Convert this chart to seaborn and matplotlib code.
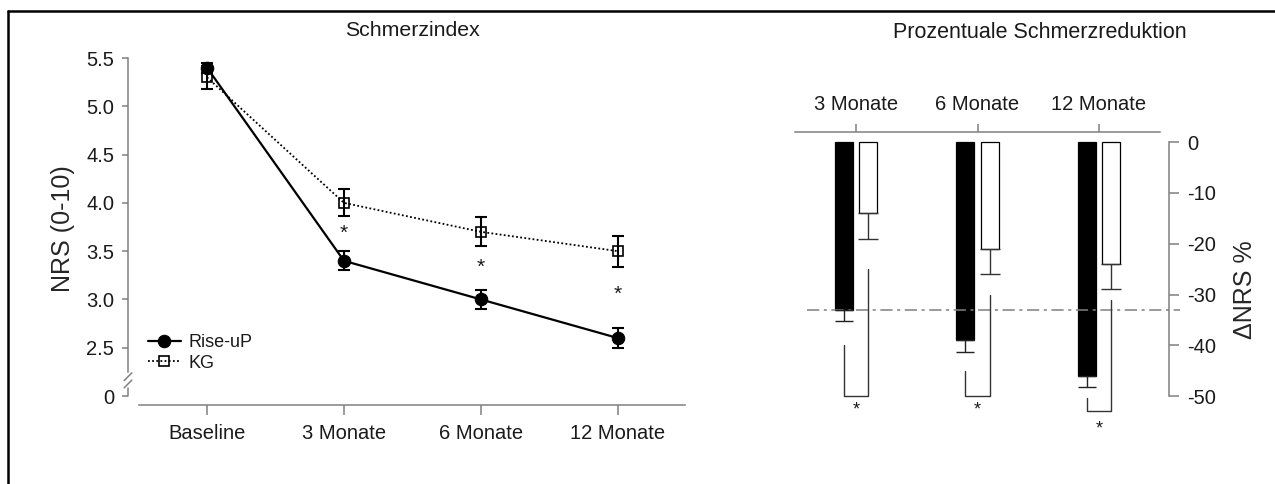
import numpy as np
import pandas as pd
import matplotlib
matplotlib.use("Agg")
import matplotlib.pyplot as plt
from matplotlib.lines import Line2D
import seaborn as sns

# ============================================================
# Data
# ============================================================
time_labels = ["Baseline", "3 Monate", "6 Monate", "12 Monate"]
rise_mean = [5.40, 3.40, 3.00, 2.60]
rise_err = [0.05, 0.10, 0.10, 0.10]
kg_mean = [5.30, 4.00, 3.70, 3.50]
kg_err = [0.12, 0.14, 0.15, 0.16]
star_y_left = [None, 3.68, 3.33, 3.05]

reduction_labels = ["3 Monate", "6 Monate", "12 Monate"]
rise_change = [-33, -39, -46]
rise_change_err = [2.3, 2.3, 2.2]
kg_change = [-14, -21, -24]
kg_change_err = [5.0, 5.0, 5.0]
threshold = -33

# significance brackets: top of left leg, top of right leg, bottom, asterisk
bracket_left_top = [-40, -45, -50.3]
bracket_right_top = [-25, -30, -31]
bracket_bottom = [-50, -50, -53]
star_y_right = [-52.8, -52.8, -56.5]

GRAY = "#808080"
TXT = "#1a1a1a"

sns.set_theme(style="ticks")
plt.rcParams["font.family"] = ["Liberation Sans", "DejaVu Sans"]
plt.rcParams["text.color"] = TXT
plt.rcParams["xtick.color"] = GRAY
plt.rcParams["ytick.color"] = GRAY
plt.rcParams["xtick.labelcolor"] = TXT
plt.rcParams["ytick.labelcolor"] = TXT

fig = plt.figure(figsize=(12.75, 4.84), dpi=100)

# ============================================================
# Left: Schmerzindex
# ============================================================
ax = fig.add_axes([128 / 1275, 79 / 484, 557 / 1275, 352 / 484])
pos = np.arange(len(time_labels))
df_line = pd.DataFrame({"pos": pos, "rise": rise_mean, "kg": kg_mean})

ax.errorbar(pos, kg_mean, yerr=kg_err, fmt="none", ecolor="black",
            elinewidth=1.5, capsize=4.5, capthick=1.5, zorder=2)
ax.errorbar(pos, rise_mean, yerr=rise_err, fmt="none", ecolor="black",
            elinewidth=1.5, capsize=4.5, capthick=1.5, zorder=2)
sns.lineplot(data=df_line, x="pos", y="kg", ax=ax, color="black",
             linestyle=(0, (1, 1.3)), linewidth=1.3, marker="s", markersize=7,
             markerfacecolor="none", markeredgecolor="black", markeredgewidth=1.2,
             label="KG", zorder=3)
sns.lineplot(data=df_line, x="pos", y="rise", ax=ax, color="black",
             linestyle="-", linewidth=1.6, marker="o", markersize=9,
             markerfacecolor="black", markeredgecolor="black",
             label="Rise-uP", zorder=4)

for x, y in zip(pos, star_y_left):
    if y is not None:
        ax.text(x, y, "*", ha="center", va="center", fontsize=15)

ax.set_xlim(-0.577, 3.49)
ax.set_ylim(1.907, 5.552)
ax.set_xticks(pos)
ax.set_xticklabels(time_labels, fontsize=14.5)
ax.set_yticks([2.0, 2.5, 3.0, 3.5, 4.0, 4.5, 5.0, 5.5])
ax.set_yticklabels(["0", "2.5", "3.0", "3.5", "4.0", "4.5", "5.0", "5.5"], fontsize=14.5)
ax.set_xlabel("")
ax.set_ylabel("NRS (0-10)", fontsize=18, labelpad=8)
ax.tick_params(axis="x", length=7, width=1.1, pad=7)
ax.tick_params(axis="y", length=4, width=1.1, pad=6)
for s in ["top", "right"]:
    ax.spines[s].set_visible(False)
for s in ["left", "bottom"]:
    ax.spines[s].set_color(GRAY)
    ax.spines[s].set_linewidth(1.1)
ax.spines["bottom"].set_bounds(-0.5, 3.49)
ax.spines["left"].set_bounds(2.25, 5.5)
# axis break on the y axis
x0 = -0.577
ax.plot([x0, x0], [2.0, 2.08], color=GRAY, lw=1.1, clip_on=False)
for yc in [2.2, 2.125]:
    ax.plot([x0 - 0.028, x0 + 0.028], [yc - 0.04, yc + 0.04], color=GRAY,
            lw=1.1, clip_on=False)

handles, labels = ax.get_legend_handles_labels()
order = [labels.index("Rise-uP"), labels.index("KG")]
ax.legend([handles[i] for i in order], [labels[i] for i in order],
          loc="lower left", bbox_to_anchor=(0.036, 0.095), frameon=False,
          fontsize=13, handlelength=1.8, handletextpad=0.45, labelspacing=0.2,
          borderpad=0, borderaxespad=0)

fig.text(412 / 1275, 1 - 30 / 484, "Schmerzindex", ha="center", va="center", fontsize=15.3)

# ============================================================
# Right: Prozentuale Schmerzreduktion
# ============================================================
ax2 = fig.add_axes([795 / 1275, 37 / 484, 374 / 1275, 315 / 484])
df_bar = pd.DataFrame({
    "Zeit": reduction_labels * 2,
    "Gruppe": ["Rise-uP"] * 3 + ["KG"] * 3,
    "Wert": rise_change + kg_change,
})
sns.barplot(data=df_bar, x="Zeit", y="Wert", hue="Gruppe", order=reduction_labels,
            hue_order=["Rise-uP", "KG"], palette=["black", "white"],
            width=0.4, gap=0.25, errorbar=None, edgecolor="black", linewidth=0.9,
            legend=False, ax=ax2)

gpos = np.arange(len(reduction_labels))
ax2.errorbar(gpos - 0.1, rise_change, yerr=[rise_change_err, [0] * 3], fmt="none",
             ecolor="#222222", elinewidth=1, capsize=6.5, capthick=1)
ax2.errorbar(gpos + 0.1, kg_change, yerr=[kg_change_err, [0] * 3], fmt="none",
             ecolor="#333333", elinewidth=1, capsize=7, capthick=1)

# reference line
ax2.plot([-0.40, 2.67], [threshold, threshold], color=GRAY, lw=1.1,
         linestyle=(0, (8, 3, 2, 3)), clip_on=False, zorder=1)

# significance brackets
for i in range(len(gpos)):
    xl, xr = gpos[i] - 0.1, gpos[i] + 0.1
    ax2.plot([xl, xl, xr, xr],
             [bracket_left_top[i], bracket_bottom[i], bracket_bottom[i], bracket_right_top[i]],
             color="#333333", lw=1, clip_on=False)
    ax2.text(gpos[i], star_y_right[i], "*", ha="center", va="center", fontsize=13)

ax2.set_xlim(-0.502, 2.576)
ax2.set_ylim(-60, 1.97)
ax2.set_xlabel("")
ax2.xaxis.tick_top()
ax2.set_xticks(gpos)
ax2.set_xticklabels(reduction_labels, fontsize=14.5)
ax2.yaxis.tick_right()
ax2.yaxis.set_label_position("right")
ax2.set_yticks([0, -10, -20, -30, -40, -50])
ax2.set_yticklabels(["0", "-10", "-20", "-30", "-40", "-50"], fontsize=14.5)
ax2.set_ylabel("\u0394NRS %", fontsize=18, labelpad=12)
ax2.tick_params(axis="x", length=6, width=1.1, pad=7)
ax2.tick_params(axis="y", length=7, width=1.1, pad=6)
for s in ["bottom", "left"]:
    ax2.spines[s].set_visible(False)
for s in ["top", "right"]:
    ax2.spines[s].set_color(GRAY)
    ax2.spines[s].set_linewidth(1.1)
ax2.spines["top"].set_bounds(-0.5, 2.5)
ax2.spines["right"].set_bounds(-50, 0)

fig.text(1040 / 1275, 1 - 33 / 484, "Prozentuale Schmerzreduktion", ha="center",
         va="center", fontsize=15.5)

# outer frame (top and left edges as in the cropped original)
fig.add_artist(Line2D([8 / 1275, 1.0], [1 - 11 / 484, 1 - 11 / 484], color="black", lw=1.8))
fig.add_artist(Line2D([8 / 1275, 8 / 1275], [0.0, 1 - 11 / 484], color="black", lw=1.8))

fig.savefig("out.png", dpi=100)
plt.close(fig)
